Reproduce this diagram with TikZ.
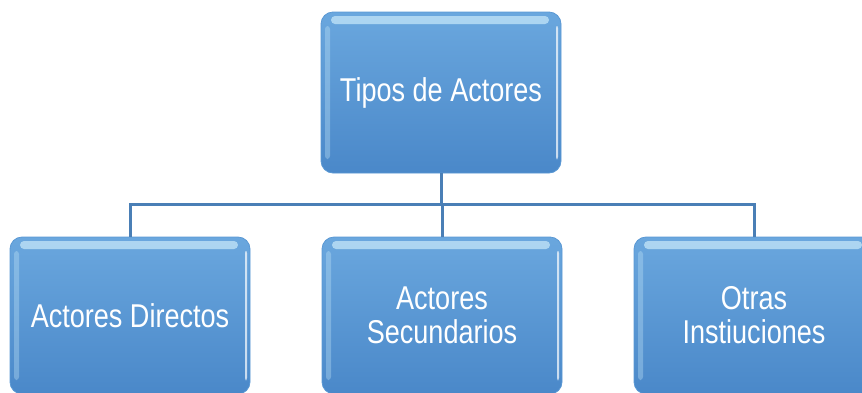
\documentclass[tikz,border=0pt]{standalone}
\usepackage{fontspec}
\setmainfont{Liberation Sans}[FakeStretch=0.82]
\definecolor{boxtop}{HTML}{6AA7DE}
\definecolor{boxbot}{HTML}{4A88C9}
\definecolor{boxrim}{HTML}{5A98D4}
\definecolor{linkc}{HTML}{4A7FB6}
\definecolor{shine}{HTML}{C4E6F8}
\tikzset{
  actorbox/.style={rounded corners=12pt, minimum width=240pt, minimum height=161pt,
    inner sep=0pt, top color=boxtop, bottom color=boxbot, draw=boxrim, line width=0.8pt,
    text=white, align=center, font=\fontsize{33}{34}\selectfont,
    path picture={
      \fill[shine,opacity=0.75,rounded corners=4pt]
        ([xshift=10pt,yshift=-4pt]path picture bounding box.north west)
        rectangle ([xshift=-12pt,yshift=-12pt]path picture bounding box.north east);
      \fill[shine,opacity=0.35,rounded corners=3pt]
        ([xshift=4pt,yshift=-14pt]path picture bounding box.north west)
        rectangle ([xshift=9pt,yshift=14pt]path picture bounding box.south west);
      \fill[white,opacity=0.7,rounded corners=2pt]
        ([xshift=-5pt,yshift=-14pt]path picture bounding box.north east)
        rectangle ([xshift=-3pt,yshift=14pt]path picture bounding box.south east);
    }},
  lowbox/.style={actorbox, minimum height=157pt},
  link/.style={draw=linkc, line width=3pt}
}
\begin{document}
\begin{tikzpicture}[x=1pt,y=-1pt]
\useasboundingbox (0,0) rectangle (862,392);
\node[actorbox] (top) at (441,92.5) {Tipos de Actores};
\node[lowbox] (left) at (130,315.5) {Actores Directos};
\node[lowbox] (mid) at (442,315.5) {Actores\\Secundarios};
\node[lowbox] (right) at (754,315.5) {Otras\\Instiuciones};
\coordinate (j) at (442,204);
\begin{scope}[on background layer/.try]
\draw[link] (top.south) -- (top.south |- j);
\draw[link] (left.north) -- (left.north |- j) -- (right.north |- j) -- (right.north);
\draw[link] (mid.north |- j) -- (mid.north);
\end{scope}
\end{tikzpicture}
\end{document}
